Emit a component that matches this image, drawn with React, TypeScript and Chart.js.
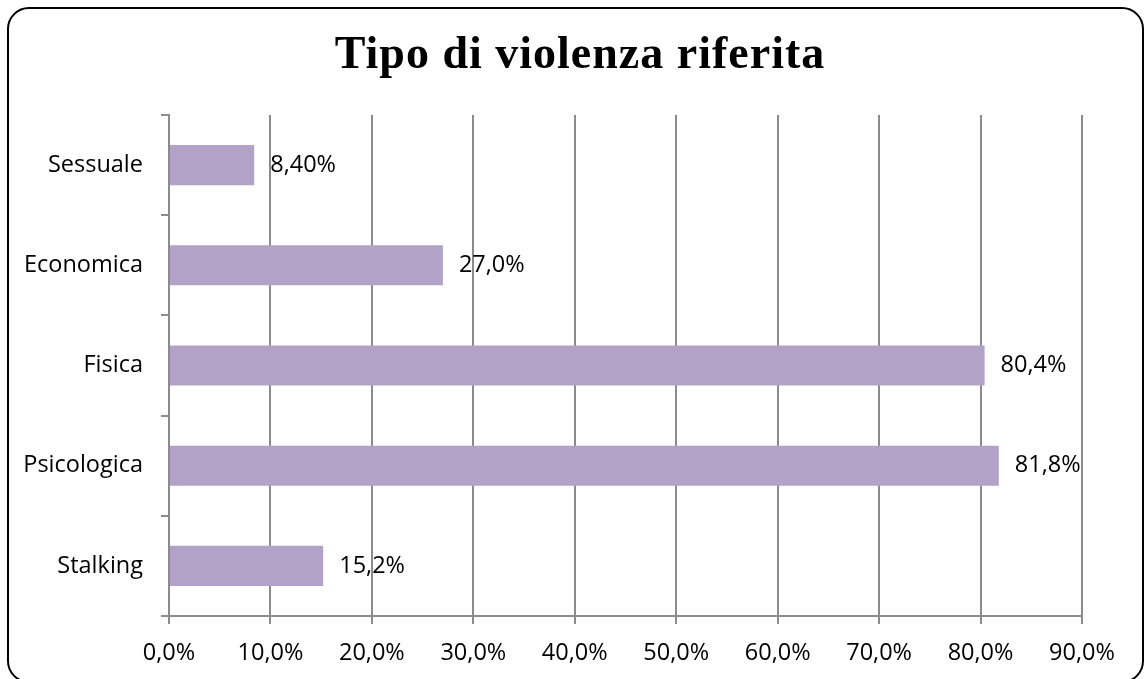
import React, { useEffect, useRef } from "react";
import { Chart, registerables } from "chart.js";

Chart.register(...registerables);

const categories = ["Sessuale", "Economica", "Fisica", "Psicologica", "Stalking"];
const values = [8.4, 27.0, 80.4, 81.8, 15.2];
const valueLabels = ["8,40%", "27,0%", "80,4%", "81,8%", "15,2%"];
const titleText = "Tipo di violenza riferita";

const FONT = "'Open Sans', 'Liberation Sans', sans-serif";
const FSIZE = 23.5;
const GRID = "#8c8c8c";

export default function App() {
  const ref = useRef<HTMLCanvasElement | null>(null);

  useEffect(() => {
    const canvas = ref.current;
    if (!canvas) return;
    const labelPlugin = {
      id: "valueLabels",
      afterDatasetsDraw(chart: any) {
        const ctx = chart.ctx;
        const meta = chart.getDatasetMeta(0);
        ctx.save();
        ctx.font = `${FSIZE}px ${FONT}`;
        ctx.fillStyle = "#000";
        ctx.textAlign = "left";
        ctx.textBaseline = "middle";
        meta.data.forEach((el: any, i: number) => {
          ctx.fillText(valueLabels[i], el.x + 16, el.y);
        });
        ctx.restore();
      },
    };
    const chart = new Chart(canvas, {
      type: "bar",
      data: {
        labels: categories,
        datasets: [
          {
            data: values,
            backgroundColor: "#b3a2c7",
            borderWidth: 0,
            categoryPercentage: 1,
            barPercentage: 0.4,
          },
        ],
      },
      options: {
        indexAxis: "y",
        animation: false,
        responsive: false,
        maintainAspectRatio: false,
        layout: { padding: { left: 0, right: 62, top: 115, bottom: 0 } },
        plugins: {
          legend: { display: false },
          tooltip: { enabled: false },
          title: { display: false },
        },
        scales: {
          x: {
            min: 0,
            max: 90,
            ticks: {
              stepSize: 10,
              padding: 15,
              color: "#000",
              font: { family: FONT, size: FSIZE },
              callback: (v: any) => Number(v).toFixed(1).replace(".", ",") + "%",
            },
            grid: {
              color: GRID,
              lineWidth: 2,
              drawTicks: true,
              tickLength: 8,
              tickColor: GRID,
            },
            border: { display: true, color: GRID, width: 2 },
            afterFit: (s: any) => {
              s.height = 63;
            },
          },
          y: {
            ticks: {
              padding: 18,
              color: "#000",
              font: { family: FONT, size: FSIZE },
            },
            grid: {
              offset: true,
              drawOnChartArea: false,
              drawTicks: true,
              tickLength: 8,
              color: GRID,
              lineWidth: 2,
            },
            border: { display: true, color: GRID, width: 2 },
            afterFit: (s: any) => {
              s.width = 169;
            },
          },
        },
      },
      plugins: [labelPlugin],
    });
    return () => chart.destroy();
  }, []);

  return (
    <div
      style={{
        position: "fixed",
        left: 0,
        top: 0,
        width: 1144,
        height: 679,
        overflow: "hidden",
        background: "#fff",
      }}
    >
      <div
        style={{
          position: "absolute",
          left: 7,
          top: 7,
          width: 1137,
          height: 676,
          boxSizing: "border-box",
          border: "2px solid #000",
          borderRadius: 22,
        }}
      />
      <canvas
        ref={ref}
        width={1144}
        height={679}
        style={{ position: "absolute", left: 0, top: 0, width: 1144, height: 679 }}
      />
      <div
        style={{
          position: "absolute",
          left: 0,
          width: 1160,
          top: 30,
          textAlign: "center",
          fontFamily: "'Liberation Serif', 'Times New Roman', serif",
          fontWeight: "bold",
          fontSize: 46,
          lineHeight: "46px",
          letterSpacing: 1,
          color: "#000",
          whiteSpace: "nowrap",
        }}
      >
        {titleText}
      </div>
    </div>
  );
}
